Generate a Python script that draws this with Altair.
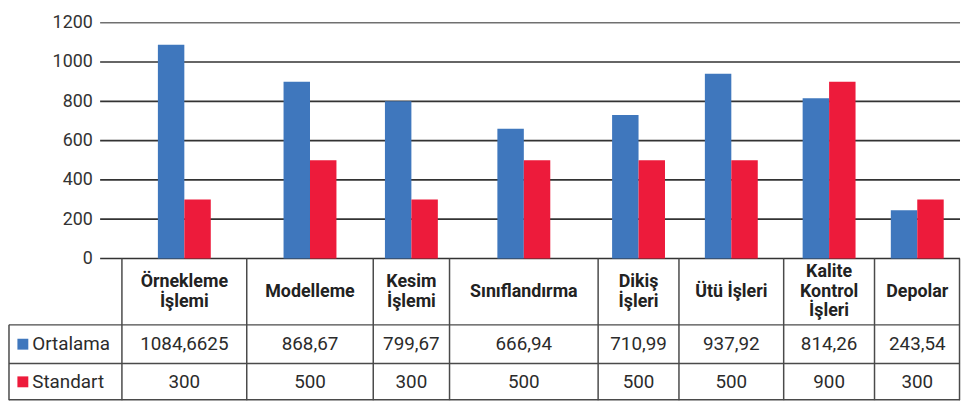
import altair as alt
import pandas as pd

# ---------------- data ----------------
categories = ["Örnekleme\nİşlemi", "Modelleme", "Kesim\nİşlemi", "Sınıflandırma",
              "Dikiş\nİşleri", "Ütü İşleri", "Kalite\nKontrol\nİşleri", "Depolar"]
series = ["Ortalama", "Standart"]
ortalama_bar = [1088, 900, 800, 660, 730, 940, 815, 245]
standart_bar = [300, 500, 300, 500, 500, 500, 900, 300]
ortalama_text = ["1084,6625", "868,67", "799,67", "666,94", "710,99", "937,92", "814,26", "243,54"]
standart_text = ["300", "500", "300", "500", "500", "500", "900", "300"]
y_ticks = [0, 200, 400, 600, 800, 1000, 1200]

# ---------------- layout ----------------
col_widths = [114, 126, 127.7, 77, 150, 81.6, 105.7, 91.7, 86.3]  # row-label column + 8 categories
row_heights = [67, 39, 37]
BAR_W = 26.7
W = 960
PLOT_H = 238
TABLE_H = sum(row_heights)
LINE_H = 20
colors = ["#3F77BD", "#ED1B3B"]
FONT = "Roboto"

edges = [0.0]
for w in col_widths:
    edges.append(edges[-1] + w)
centers = [(edges[i + 1] + edges[i + 2]) / 2 for i in range(len(categories))]

xscale = alt.Scale(domain=[0, W], nice=False, zero=False)
yscale = alt.Scale(domain=[0, 1200], nice=False)
yaxis = alt.Axis(values=y_ticks, format="d", offset=-92, domain=False, ticks=False, grid=False,
                 labelPadding=8, labelFont=FONT, labelFontSize=18, labelColor="#333333",
                 title=None)

bar_rows = []
for i, c in enumerate(categories):
    bar_rows.append({"cat": c, "series": "Ortalama", "value": ortalama_bar[i],
                     "x0": centers[i] - BAR_W, "x1": centers[i], "base": 0})
    bar_rows.append({"cat": c, "series": "Standart", "value": standart_bar[i],
                     "x0": centers[i], "x1": centers[i] + BAR_W, "base": 0})
bars_df = pd.DataFrame(bar_rows)
grid_df = pd.DataFrame({"v": y_ticks})

grid = alt.Chart(grid_df).mark_rule(strokeWidth=1.7).encode(
    y=alt.Y("v:Q", scale=yscale, axis=yaxis),
    x=alt.value(92),
    x2=alt.value(W),
    color=alt.condition(alt.datum.v == 1200, alt.value("#707070"), alt.value("#333333")),
)

bars = alt.Chart(bars_df).mark_rect().encode(
    x=alt.X("x0:Q", scale=xscale, axis=None),
    x2="x1:Q",
    y=alt.Y("value:Q", scale=yscale, axis=yaxis),
    y2="base:Q",
    color=alt.Color("series:N", scale=alt.Scale(domain=series, range=colors), legend=None),
)

top = alt.layer(grid, bars).properties(width=W, height=PLOT_H)

# ---------------- table ----------------
r_edges = [0.0]
for h in row_heights:
    r_edges.append(r_edges[-1] + h)
r_centers = [(r_edges[i] + r_edges[i + 1]) / 2 for i in range(3)]

line_rows = []
for j, e in enumerate(edges):
    xe = min(e, W - 0.5)
    line_rows.append({"x": xe, "x2": xe, "y": r_edges[1] if j == 0 else 0, "y2": TABLE_H})
for yv in r_edges[1:]:
    line_rows.append({"x": 0, "x2": W, "y": min(yv, TABLE_H - 0.5), "y2": min(yv, TABLE_H - 0.5)})
lines_df = pd.DataFrame(line_rows)

tscale = alt.Scale(domain=[0, TABLE_H], nice=False, zero=False, reverse=True)

lines = alt.Chart(lines_df).mark_rule(strokeWidth=1.5, color="#4a4a4a").encode(
    x=alt.X("x:Q", scale=xscale, axis=None),
    x2="x2:Q",
    y=alt.Y("y:Q", scale=tscale, axis=None),
    y2="y2:Q",
)

# first line of each (possibly multi-line) header is shifted so the block is centred
header_y = [r_centers[0] - (c.count("\n")) * LINE_H / 2 for c in categories]
header_df = pd.DataFrame({"x": centers, "y": header_y, "t": categories})
header = alt.Chart(header_df).mark_text(
    lineBreak="\n", font=FONT, fontWeight="bold", fontSize=18, lineHeight=LINE_H,
    baseline="middle", align="center", color="#222222"
).encode(
    x=alt.X("x:Q", scale=xscale, axis=None),
    y=alt.Y("y:Q", scale=tscale, axis=None),
    text="t:N",
)

val_rows = []
for i in range(len(categories)):
    val_rows.append({"x": centers[i], "y": r_centers[1], "t": ortalama_text[i]})
    val_rows.append({"x": centers[i], "y": r_centers[2], "t": standart_text[i]})
vals_df = pd.DataFrame(val_rows)
vals = alt.Chart(vals_df).mark_text(
    font=FONT, fontSize=19, baseline="middle", align="center", color="#2b2b2b"
).encode(
    x=alt.X("x:Q", scale=xscale, axis=None),
    y=alt.Y("y:Q", scale=tscale, axis=None),
    text="t:N",
)

legend_df = pd.DataFrame({"series": series, "y": r_centers[1:], "xs": [14, 14], "xt": [23.5, 23.5]})
squares = alt.Chart(legend_df).mark_square(size=121, opacity=1, filled=True).encode(
    x=alt.X("xs:Q", scale=xscale, axis=None),
    y=alt.Y("y:Q", scale=tscale, axis=None),
    color=alt.Color("series:N", scale=alt.Scale(domain=series, range=colors), legend=None),
)
row_labels = alt.Chart(legend_df).mark_text(
    font=FONT, fontSize=19, baseline="middle", align="left", color="#2b2b2b"
).encode(
    x=alt.X("xt:Q", scale=xscale, axis=None),
    y=alt.Y("y:Q", scale=tscale, axis=None),
    text="series:N",
)

table = alt.layer(lines, squares, row_labels, header, vals).properties(width=W, height=TABLE_H)

chart = alt.vconcat(top, table, spacing=0, bounds="flush").properties(
    padding={"left": 0, "right": 0, "top": 4, "bottom": 0}
).configure_view(stroke=None)

chart.save("out.html", embed_options={"renderer": "svg", "actions": False})
